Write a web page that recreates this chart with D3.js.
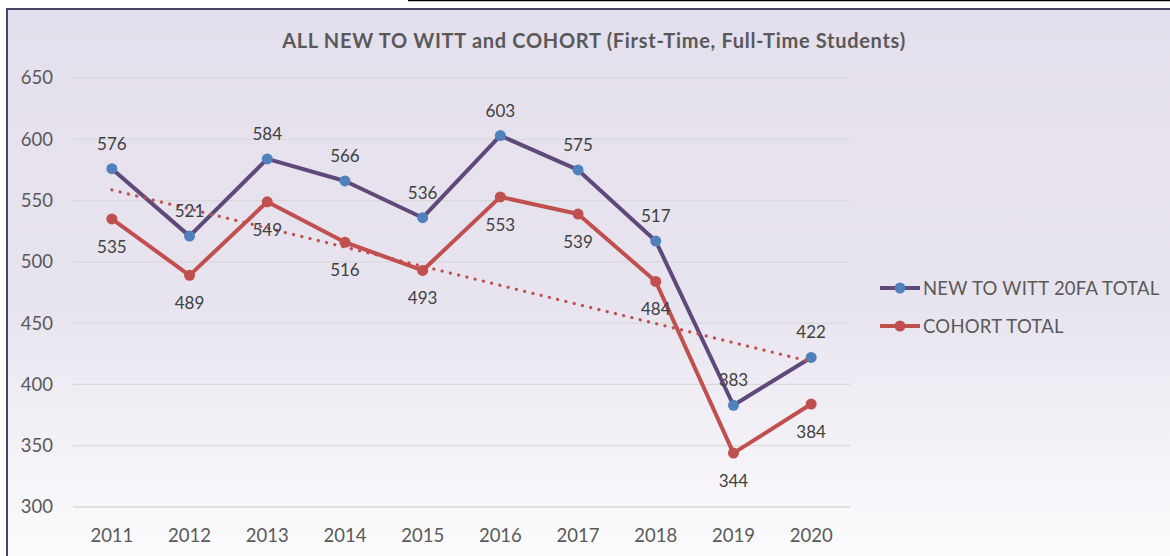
<!DOCTYPE html>
<html>
<head>
<meta charset="utf-8">
<script src="https://cdn.jsdelivr.net/npm/d3@7"></script>
<style>
  html, body { margin: 0; padding: 0; background: #fff; }
  svg { display: block; font-family: Lato, "Open Sans", sans-serif; }
</style>
</head>
<body>
<svg id="chart" width="1170" height="556"></svg>
<script>
// data
const years = ["2011", "2012", "2013", "2014", "2015", "2016", "2017", "2018", "2019", "2020"];
const newToWitt = [576, 521, 584, 566, 536, 603, 575, 517, 383, 422];
const cohort = [535, 489, 549, 516, 493, 553, 539, 484, 344, 384];
const yTicks = [300, 350, 400, 450, 500, 550, 600, 650];
const seriesNames = ["NEW TO WITT 20FA TOTAL", "COHORT TOTAL"];

const W = 1170, H = 556;
const plot = { left: 73, right: 850, top: 78, bottom: 507 };

const svg = d3.select("#chart");

// background gradient
const defs = svg.append("defs");
const grad = defs.append("linearGradient")
  .attr("id", "bg").attr("x1", 0).attr("y1", 0).attr("x2", 0).attr("y2", 1);
grad.append("stop").attr("offset", "0%").attr("stop-color", "#e4dfec");
grad.append("stop").attr("offset", "50%").attr("stop-color", "#e8e4ef");
grad.append("stop").attr("offset", "100%").attr("stop-color", "#ffffff");

svg.append("rect")
  .attr("x", 7).attr("y", 9).attr("width", W + 10).attr("height", H + 30)
  .attr("fill", "url(#bg)")
  .attr("stroke", "#4b4466").attr("stroke-width", 2);

// stray line at the very top of the screenshot
svg.append("line")
  .attr("x1", 408).attr("x2", W).attr("y1", 0.5).attr("y2", 0.5)
  .attr("stroke", "#000").attr("stroke-width", 1.5);

const x = d3.scaleBand().domain(years).range([plot.left, plot.right]);
const cx = (d) => x(d) + x.bandwidth() / 2;
const y = d3.scaleLinear().domain([300, 650]).range([plot.bottom, plot.top]);

// gridlines
svg.append("g")
  .selectAll("line")
  .data(yTicks)
  .join("line")
  .attr("x1", plot.left).attr("x2", plot.right)
  .attr("y1", (d) => y(d)).attr("y2", (d) => y(d))
  .attr("stroke", "#d9d9d9").attr("stroke-width", 1.3);

// y axis labels
const yAxis = svg.append("g")
  .attr("transform", `translate(${plot.left - 20},0)`)
  .call(d3.axisLeft(y).tickValues(yTicks).tickSize(0).tickPadding(0));
yAxis.select(".domain").remove();
yAxis.selectAll("text")
  .attr("fill", "#595959").attr("font-size", 18.5)
  .attr("font-family", "Lato, sans-serif");

// x axis labels
const xAxis = svg.append("g")
  .attr("transform", `translate(0,${plot.bottom + 22})`)
  .call(d3.axisBottom(x).tickSize(0).tickPadding(0));
xAxis.select(".domain").remove();
xAxis.selectAll("text")
  .attr("fill", "#595959").attr("font-size", 18.5)
  .attr("font-family", "Lato, sans-serif");

// title
svg.append("text")
  .attr("x", 594).attr("y", 48)
  .attr("text-anchor", "middle")
  .attr("font-size", 20).attr("font-weight", "bold")
  .attr("letter-spacing", 0.7)
  .attr("fill", "#595959")
  .text("ALL NEW TO WITT and COHORT (First-Time, Full-Time Students)");

const line = d3.line().x((d, i) => cx(years[i])).y((d) => y(d));

const series = [
  { name: seriesNames[0], values: newToWitt, lineColor: "#5f497a", dotColor: "#4f81bd", labelDy: -19 },
  { name: seriesNames[1], values: cohort, lineColor: "#c0504d", dotColor: "#c0504d", labelDy: 34 },
];

// draw cohort first so the purple line sits above it
[series[1], series[0]].forEach((s) => {
  svg.append("path")
    .datum(s.values)
    .attr("d", line)
    .attr("fill", "none")
    .attr("stroke", s.lineColor)
    .attr("stroke-width", 4)
    .attr("stroke-linejoin", "round");
  svg.append("g")
    .selectAll("circle")
    .data(s.values)
    .join("circle")
    .attr("cx", (d, i) => cx(years[i]))
    .attr("cy", (d) => y(d))
    .attr("r", 5.5)
    .attr("fill", s.dotColor);
});

// linear trendline on the cohort series (least squares, like Excel)
const n = cohort.length;
const xs = d3.range(1, n + 1);
const mx = d3.mean(xs), my = d3.mean(cohort);
const slope = d3.sum(xs, (v, i) => (v - mx) * (cohort[i] - my)) / d3.sum(xs, (v) => (v - mx) ** 2);
const icpt = my - slope * mx;
const trend = [icpt + slope * 1, icpt + slope * n];
svg.append("line")
  .attr("x1", cx(years[0])).attr("y1", y(trend[0]))
  .attr("x2", cx(years[n - 1])).attr("y2", y(trend[1]))
  .attr("stroke", "#c0504d")
  .attr("stroke-width", 3.2)
  .attr("stroke-linecap", "round")
  .attr("stroke-dasharray", "0.1 8.4");

// data labels
series.forEach((s) => {
  svg.append("g")
    .selectAll("text")
    .data(s.values)
    .join("text")
    .attr("x", (d, i) => cx(years[i]))
    .attr("y", (d) => y(d) + s.labelDy)
    .attr("text-anchor", "middle")
    .attr("font-size", 17)
    .attr("fill", "#404040")
    .text((d) => d);
});

// legend
const legend = svg.append("g").attr("transform", "translate(880,288)");
series.forEach((s, i) => {
  const g = legend.append("g").attr("transform", `translate(0,${i * 38})`);
  g.append("line")
    .attr("x1", 0).attr("x2", 40)
    .attr("stroke", s.lineColor).attr("stroke-width", 4);
  g.append("circle").attr("cx", 20).attr("r", 5.5).attr("fill", s.dotColor);
  g.append("text")
    .attr("x", 43).attr("y", 7)
    .attr("font-size", 18.5).attr("letter-spacing", 0.25).attr("fill", "#595959")
    .text(s.name);
});
</script>
</body>
</html>
